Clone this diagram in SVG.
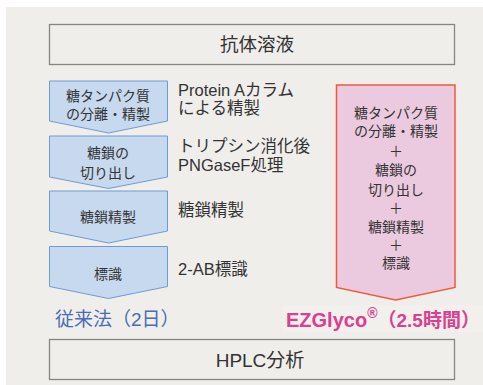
<svg xmlns="http://www.w3.org/2000/svg" width="483" height="385" viewBox="0 0 483 385">
<style>
text{font-family:"Liberation Sans","Noto Sans CJK JP",sans-serif;fill:#333;dominant-baseline:central}
.box{fill:#efeeea;stroke:#858585;stroke-width:1.3}
.blue{fill:#c6d9ee;stroke:#6f9bd3;stroke-width:1}
.pink{fill:#ebcae0;stroke:#f05a3a;stroke-width:1.5}
.in{font-size:14px;text-anchor:middle}
.lbl{font-size:16.5px}
</style>
<rect x="6" y="7" width="477" height="378" fill="#efeeea"/>
<g id="start">
<rect class="box" x="49.5" y="24.5" width="405" height="40"/>
<text x="257" y="44" style="font-size:18.5px;text-anchor:middle">抗体溶液</text>
</g>
<g id="step1">
<path class="blue" d="M49.5,81 H167.5 V121 L108.5,133 L49.5,121 Z"/>
<text class="in" x="108" y="96">糖タンパク質</text>
<text class="in" x="108" y="114">の分離・精製</text>
<text class="lbl" x="178" y="90">Protein Aカラム</text>
<text class="lbl" x="178" y="108">による精製</text>
</g>
<g id="step2">
<path class="blue" d="M49.5,136 H167.5 V177 L108.5,188.5 L49.5,177 Z"/>
<text class="in" x="108" y="152.5">糖鎖の</text>
<text class="in" x="108" y="172.5">切り出し</text>
<text class="lbl" x="178" y="146">トリプシン消化後</text>
<text class="lbl" x="178" y="165">PNGaseF処理</text>
</g>
<g id="step3">
<path class="blue" d="M49.5,191 H167.5 V231 L108.5,243 L49.5,231 Z"/>
<text class="in" x="108" y="217">糖鎖精製</text>
<text class="lbl" x="178" y="210">糖鎖精製</text>
</g>
<g id="step4">
<path class="blue" d="M49.5,246.5 H167.5 V286.5 L108.5,298.5 L49.5,286.5 Z"/>
<text class="in" x="108" y="274">標識</text>
<text class="lbl" x="178" y="269">2-AB標識</text>
</g>
<g id="ezglyco">
<path class="pink" d="M336.5,85 H455 V287.5 L395.7,300 L336.5,287.5 Z"/>
<text class="in" x="396" y="112.5">糖タンパク質</text>
<text class="in" x="396" y="131">の分離・精製</text>
<text class="in" x="396" y="151">＋</text>
<text class="in" x="396" y="169.5">糖鎖の</text>
<text class="in" x="396" y="189.5">切り出し</text>
<text class="in" x="396" y="208">＋</text>
<text class="in" x="396" y="226.5">糖鎖精製</text>
<text class="in" x="396" y="245">＋</text>
<text class="in" x="396" y="263">標識</text>
</g>
<g id="labels">
<text x="55" y="319" style="font-size:19px;fill:#4a6bb5">従来法（2日）</text>
<rect x="282" y="305" width="201" height="27" fill="#f2f0ed"/>
<text x="286" y="320" style="font-size:20px;font-weight:bold;fill:#d9408f">EZGlyco<tspan style="font-size:14px" dy="-7">®</tspan><tspan dy="7" style="font-size:19px">（2.5時間）</tspan></text>
</g>
<g id="hplc">
<rect class="box" x="49.5" y="339.5" width="405" height="40"/>
<text x="260" y="360" style="font-size:19px;text-anchor:middle">HPLC分析</text>
</g>
<g id="connectors"></g>
</svg>
